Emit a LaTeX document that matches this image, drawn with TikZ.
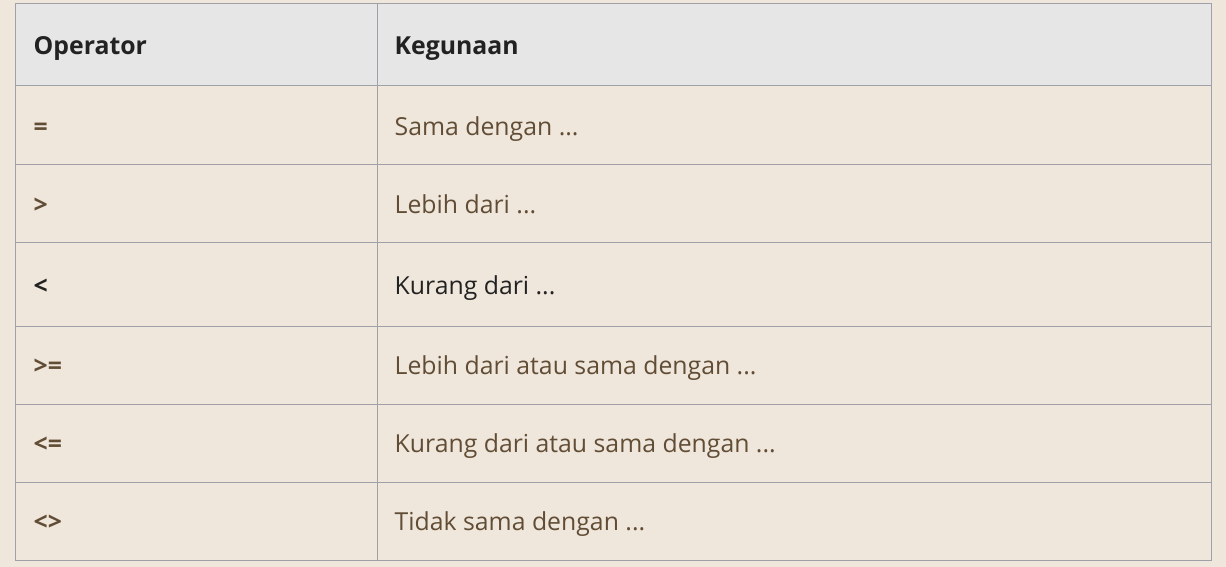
\documentclass[tikz,border=0pt]{standalone}
\usepackage{fontspec}
\setmainfont{Open Sans}
\definecolor{pagebg}{HTML}{F0E7DC}
\definecolor{headbg}{HTML}{E6E6E6}
\definecolor{rule}{HTML}{A0A0A8}
\definecolor{bodytxt}{HTML}{614D35}
\definecolor{darktxt}{HTML}{222222}
\begin{document}
\begin{tikzpicture}[x=1pt,y=-1pt,
  cell/.style={anchor=base west,inner sep=0pt,font=\fontsize{24.8}{29}\selectfont,text=bodytxt},
  headcell/.style={cell,font=\fontsize{24.8}{29}\selectfont\bfseries,text=darktxt},
  opcell/.style={cell,font=\fontsize{24.8}{29}\selectfont\bfseries},
  gridline/.style={draw=rule,line width=1pt}]
\useasboundingbox (0,0) rectangle (1226,567);
\fill[pagebg] (0,0) rectangle (1226,567);
\fill[headbg] (15.5,3.5) rectangle (1211,86);
% grid
\draw[gridline] (15.5,3.5) rectangle (1211,560.3);
\draw[gridline] (377.5,3.5) -- (377.5,560.3);
\foreach \y in {86,164,242.3,326.5,404.3,482.3}
  \draw[gridline] (15.5,\y) -- (1211,\y);
% header
\node[headcell] (h1) at (33.5,54.3) {Operator};
\node[headcell] (h2) at (394.5,54.3) {Kegunaan};
% rows
\node[opcell] (o1) at (33.5,135.3) {=};
\node[cell] (k1) at (394.5,135.3) {Sama dengan ...};
\node[opcell] (o2) at (33.5,213.3) {>};
\node[cell] (k2) at (394.5,213.3) {Lebih dari ...};
\node[opcell,text=darktxt] (o3) at (33.5,294.3) {<};
\node[cell,text=darktxt] (k3) at (394.5,294.3) {Kurang dari ...};
\node[opcell] (o4) at (33.5,374.8) {>=};
\node[cell] (k4) at (394.5,374.8) {Lebih dari atau sama dengan ...};
\node[opcell] (o5) at (33.5,452.8) {<=};
\node[cell] (k5) at (394.5,452.8) {Kurang dari atau sama dengan ...};
\node[opcell] (o6) at (33.5,530.8) {<>};
\node[cell] (k6) at (394.5,530.8) {Tidak sama dengan ...};
\end{tikzpicture}
\end{document}
